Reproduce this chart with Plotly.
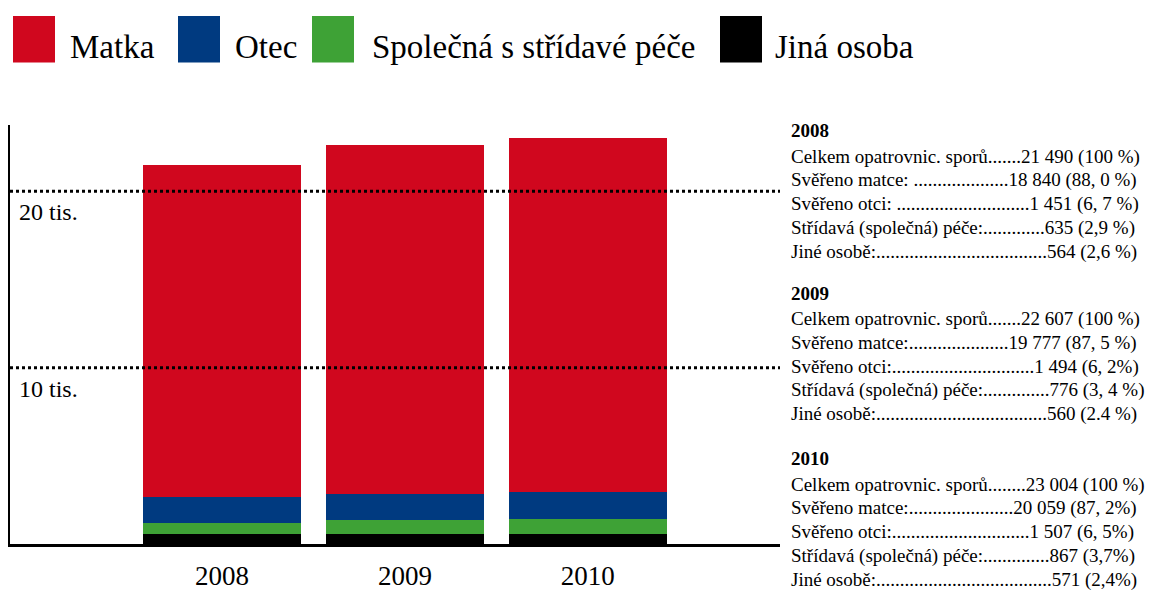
import plotly.graph_objects as go

# ---- data ----
years = ["2008", "2009", "2010"]
matka = [18840, 19777, 20059]
otec = [1451, 1494, 1507]
stridava = [635, 776, 867]
jina = [564, 560, 571]
totals = [21490, 22607, 23004]

series_names = ["Matka", "Otec", "Společná s střídavé péče", "Jiná osoba"]
series_colors = ["#D0071E", "#003A80", "#3EA236", "#000000"]

grid_values = [10000, 20000]
grid_labels = ["10 tis.", "20 tis."]

text_blocks = {
    "2008": [
        "Celkem opatrovnic. sporů.......21 490 (100 %)",
        "Svěřeno matce: ....................18 840 (88, 0 %)",
        "Svěřeno otci: ............................1 451 (6, 7 %)",
        "Střídavá (společná) péče:.............635 (2,9 %)",
        "Jiné osobě:....................................564 (2,6 %)",
    ],
    "2009": [
        "Celkem opatrovnic. sporů.......22 607 (100 %)",
        "Svěřeno matce:.....................19 777 (87, 5 %)",
        "Svěřeno otci:..............................1 494 (6, 2%)",
        "Střídavá (společná) péče:..............776 (3, 4 %)",
        "Jiné osobě:....................................560 (2.4 %)",
    ],
    "2010": [
        "Celkem opatrovnic. sporů........23 004 (100 %)",
        "Svěřeno matce:......................20 059 (87, 2%)",
        "Svěřeno otci:.............................1 507 (6, 5%)",
        "Střídavá (společná) péče:..............867 (3,7%)",
        "Jiné osobě:.....................................571 (2,4%)",
    ],
}

FONT = "Liberation Serif, Times New Roman, serif"
OFF = 8  # default body margin of the page
W, H = 1154 - OFF, 593 - OFF
# plot area in page px
PL, PR, PT, PB = 10, 780, 125, 548
L, R, T, B = PL - OFF, PR - OFF, PT - OFF, PB - OFF


def px2x(px):
    return (px - PL) / (PR - PL)


def py2y(py):
    return (PB - py) / (PB - PT)


fig = go.Figure()
# stacked bottom to top: Jiná, Společná, Otec, Matka
stack = [(jina, 3), (stridava, 2), (otec, 1), (matka, 0)]
for vals, idx in stack:
    fig.add_trace(go.Bar(
        x=years, y=vals, name=series_names[idx],
        marker=dict(color=series_colors[idx], line=dict(width=0)),
        width=0.863, showlegend=False,
    ))

shapes = []
annotations = []

# dotted reference lines (above bars)
for v, lab in zip(grid_values, grid_labels):
    shapes.append(dict(type="line", xref="paper", yref="y", x0=0, x1=1, y0=v, y1=v,
                       line=dict(color="black", width=3, dash="dot"), layer="above"))
    annotations.append(dict(x=px2x(17), y=v, xref="paper", yref="y", text=lab,
                            showarrow=False, xanchor="left", yanchor="top", yshift=-6,
                            font=dict(family=FONT, size=24, color="black")))

# manual legend
sq_x = [13, 178, 312, 720]
txt_x = [68, 233, 370, 773]
for name, col, sx, tx in zip(series_names, series_colors, sq_x, txt_x):
    shapes.append(dict(type="rect", xref="paper", yref="paper",
                       x0=px2x(sx), x1=px2x(sx + 42), y0=py2y(62), y1=py2y(15),
                       fillcolor=col, line=dict(width=0)))
    annotations.append(dict(x=px2x(tx), y=py2y(46), xref="paper", yref="paper", text=name,
                            showarrow=False, xanchor="left", yanchor="middle",
                            font=dict(family=FONT, size=33, color="black")))

# right-side text blocks
header_y = {"2008": 131, "2009": 295, "2010": 462}
line_offsets = [26, 50, 74, 98, 122]
for yr in years:
    hy = header_y[yr]
    annotations.append(dict(x=px2x(789), y=py2y(hy), xref="paper", yref="paper",
                            text="<b>" + yr + "</b>", showarrow=False,
                            xanchor="left", yanchor="middle",
                            font=dict(family=FONT, size=19, color="black")))
    for off, line in zip(line_offsets, text_blocks[yr]):
        annotations.append(dict(x=px2x(789), y=py2y(hy + off), xref="paper", yref="paper",
                                text=line, showarrow=False,
                                xanchor="left", yanchor="middle",
                                font=dict(family=FONT, size=19, color="black")))

fig.update_layout(
    width=W, height=H,
    margin=dict(l=L, r=W - R, t=T, b=H - B, pad=0),
    barmode="stack",
    paper_bgcolor="white", plot_bgcolor="white",
    shapes=shapes, annotations=annotations,
    showlegend=False,
    xaxis=dict(type="category", range=[-1.158, 3.05], showgrid=False, zeroline=False,
               showline=True, linecolor="black", linewidth=3, ticks="",
               ticklabelstandoff=6,
               tickfont=dict(family=FONT, size=27, color="black")),
    yaxis=dict(range=[0, 23760], showgrid=False, zeroline=False, showticklabels=False,
               showline=True, linecolor="black", linewidth=2, ticks=""),
)

fig.write_html("out.html")
